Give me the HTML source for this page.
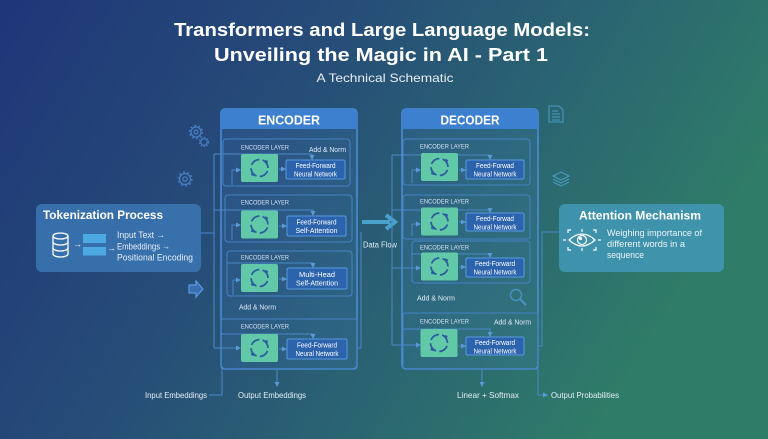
<!DOCTYPE html>
<html><head><meta charset="utf-8"><style>
html,body{margin:0;padding:0;background:#23447a;}
svg{display:block;}
text{font-family:"Liberation Sans",sans-serif;}
</style></head><body>
<svg width="768" height="439" viewBox="0 0 768 439" xmlns="http://www.w3.org/2000/svg">
<defs>
<linearGradient id="bg" x1="0" y1="0" x2="1" y2="0.35">
<stop offset="0" stop-color="#1f3679"/>
<stop offset="0.4" stop-color="#264c78"/>
<stop offset="0.7" stop-color="#2a6472"/>
<stop offset="1" stop-color="#2f7c68"/>
</linearGradient>
<marker id="ah" markerWidth="5" markerHeight="5" refX="4" refY="2.5" orient="auto" markerUnits="userSpaceOnUse">
<path d="M0,0 L5,2.5 L0,5 Z" fill="#5a9ad8"/>
</marker>
<marker id="ah2" markerWidth="6" markerHeight="6" refX="5" refY="3" orient="auto" markerUnits="userSpaceOnUse">
<path d="M0,0 L6,3 L0,6 Z" fill="#5aa0d0"/>
</marker>
<g id="cyc">
<rect x="-18.5" y="-14" width="37" height="28" rx="2" fill="#62c9a8"/>
<circle cx="0" cy="0" r="8.5" fill="none" stroke="#2b5d9c" stroke-width="1.8" stroke-dasharray="10 3.35" transform="rotate(20)"/>
<path d="M5.5,-8.2 l3.2,1.2 l-1.2,3.2z" fill="#2b5d9c"/>
<path d="M-5.5,8.2 l-3.2,-1.2 l1.2,-3.2z" fill="#2b5d9c"/>
</g>
</defs>
<rect width="768" height="439" fill="url(#bg)"/>

<!-- Title -->
<text x="382" y="36" fill="#fff" font-size="18.5" font-weight="bold" text-anchor="middle" textLength="416" lengthAdjust="spacingAndGlyphs">Transformers and Large Language Models:</text>
<text x="381" y="61" fill="#fff" font-size="18.5" font-weight="bold" text-anchor="middle" textLength="334" lengthAdjust="spacingAndGlyphs">Unveiling the Magic in AI - Part 1</text>
<text x="385" y="82" fill="#e8eef6" font-size="12" text-anchor="middle" textLength="137" lengthAdjust="spacingAndGlyphs">A Technical Schematic</text>

<!-- decorative icons -->
<g fill="none" stroke="#4a80c4" stroke-width="1.2">
<circle cx="196" cy="132" r="5"/><circle cx="196" cy="132" r="2"/>
<circle cx="196" cy="132" r="6.5" stroke-dasharray="2 2.1"/>
<circle cx="204" cy="142" r="3.2"/><circle cx="204" cy="142" r="4.5" stroke-dasharray="1.5 1.5"/>
<circle cx="185" cy="179" r="5.5"/><circle cx="185" cy="179" r="2.2"/>
<circle cx="185" cy="179" r="7" stroke-dasharray="2 2.4"/>
</g>
<g fill="none" stroke="#4a9ac0" stroke-width="1.1">
<path d="M549,106 H559 L563,110 V122 H549 Z"/>
<path d="M552,111 H558 M552,114 H560 M552,117 H560 M552,120 H560"/>
<path d="M553,176 L561,172 L569,176 L561,180 Z"/>
<path d="M553,179 L561,183 L569,179 M553,182 L561,186 L569,182"/>
</g>
<path d="M189,285 H196 V281 L203,289 L196,297 V293 H189 Z" fill="#3a6fb2" stroke="#5b9ae0" stroke-width="1.2"/>

<!-- Tokenization box -->
<rect x="36" y="204" width="165" height="68" rx="6" fill="#3b77b4" fill-opacity="0.85"/>
<text x="43" y="219" fill="#fff" font-size="12" font-weight="bold" textLength="120" lengthAdjust="spacingAndGlyphs">Tokenization Process</text>
<g fill="none" stroke="#fff" stroke-width="1.3">
<ellipse cx="60.5" cy="236" rx="7.5" ry="3"/>
<path d="M53,236 V254 M68,236 V254"/>
<path d="M53,242 A7.5,3 0 0 0 68,242 M53,248 A7.5,3 0 0 0 68,248 M53,254 A7.5,3 0 0 0 68,254"/>
</g>
<text x="73" y="247" fill="#e6eef8" font-size="9">→</text>
<rect x="83" y="234" width="23" height="9" fill="#4ca9e2"/>
<rect x="83" y="247" width="23" height="8.5" fill="#4ca9e2"/>
<text x="107" y="251" fill="#e6eef8" font-size="9">→</text>
<text x="117" y="238" fill="#e6eef8" font-size="9.5" textLength="48" lengthAdjust="spacingAndGlyphs">Input Text →</text>
<text x="117" y="249.5" fill="#e6eef8" font-size="9.5" textLength="53" lengthAdjust="spacingAndGlyphs">Embeddings →</text>
<text x="117" y="260.5" fill="#e6eef8" font-size="9.5" textLength="76" lengthAdjust="spacingAndGlyphs">Positional Encoding</text>

<!-- Attention box -->
<rect x="559" y="204" width="165" height="68" rx="6" fill="#4196b2" fill-opacity="0.9"/>
<text x="640" y="219.5" fill="#fff" font-size="12" font-weight="bold" text-anchor="middle" textLength="122" lengthAdjust="spacingAndGlyphs">Attention Mechanism</text>
<g fill="none" stroke="#fff" stroke-width="1.2">
<path d="M569,240 Q582,228 595,240 Q582,252 569,240 Z"/>
<circle cx="582" cy="240" r="4.5"/>
<path d="M563,240 H566 M598,240 H601 M582,229 V232 M582,248 V251"/>
<path d="M568,233 V230 H571 M596,233 V230 H593 M568,247 V250 H571 M596,247 V250 H593"/>
</g>
<circle cx="580.5" cy="238.5" r="1.6" fill="#fff"/>
<text x="607" y="236" fill="#eaf3f6" font-size="9.5" textLength="95" lengthAdjust="spacingAndGlyphs">Weighing importance of</text>
<text x="607" y="247" fill="#eaf3f6" font-size="9.5" textLength="78" lengthAdjust="spacingAndGlyphs">different words in a</text>
<text x="607" y="258" fill="#eaf3f6" font-size="9.5" textLength="37" lengthAdjust="spacingAndGlyphs">sequence</text>

<!-- ENCODER panel -->
<rect x="221" y="109" width="136" height="260" rx="4" fill="#4a8ee0" fill-opacity="0.13" stroke="#4c8fdc" stroke-width="1.5"/>
<path d="M221,129 V113 A4,4 0 0 1 225,109 H353 A4,4 0 0 1 357,113 V129 Z" fill="#3d80d0"/>
<text x="289" y="124.5" fill="#fff" font-size="12.5" font-weight="bold" text-anchor="middle" textLength="62" lengthAdjust="spacingAndGlyphs">ENCODER</text>

<g fill="none" stroke="#4682c4" stroke-width="1">
<rect x="223" y="139" width="127" height="47" rx="3"/>
<rect x="225" y="195" width="127" height="47" rx="3"/>
<rect x="227" y="251" width="125" height="45" rx="3"/>
<rect x="221" y="319" width="136" height="50" rx="2"/>
</g>

<!-- encoder connectors -->
<g fill="none" stroke="#4b88c8" stroke-width="1">
<path d="M201,233 H214"/>
<path d="M214,154 V348"/>
<path d="M214,154 H312 V159" marker-end="url(#ah)"/>
<path d="M232,185 V170 H240" marker-end="url(#ah)"/>
<path d="M279,169 H285" marker-end="url(#ah)"/>
<path d="M214,210 H313 V215" marker-end="url(#ah)"/>
<path d="M232,240 V225 H240" marker-end="url(#ah)"/>
<path d="M279,226 H286" marker-end="url(#ah)"/>
<path d="M227,263 H313 V267" marker-end="url(#ah)"/>
<path d="M233,295 V280 H240" marker-end="url(#ah)"/>
<path d="M279,279 H286" marker-end="url(#ah)"/>
<path d="M221,334 H313 V338" marker-end="url(#ah)"/>
<path d="M214,348 H240" marker-end="url(#ah)"/>
<path d="M279,349 H286" marker-end="url(#ah)"/>
<path d="M357,348 H361 V232"/>
<path d="M277,369 V386" marker-end="url(#ah)"/>
<path d="M209,395 H222 V369"/>
</g>

<use href="#cyc" x="259.5" y="168"/>
<use href="#cyc" x="259.5" y="224.5"/>
<use href="#cyc" x="259.5" y="278"/>
<use href="#cyc" x="259.5" y="348"/>

<g fill="#2b63ad" stroke="#5a9ae0" stroke-width="1">
<rect x="286" y="160" width="59" height="19" rx="1.5"/>
<rect x="287" y="216" width="59" height="20" rx="1.5"/>
<rect x="287" y="268" width="60" height="21" rx="1.5"/>
<rect x="287" y="339" width="60" height="20" rx="1.5"/>
</g>

<g fill="#d6e4f4" font-size="6.5">
<text x="241" y="149.5" textLength="48" lengthAdjust="spacingAndGlyphs">ENCODER LAYER</text>
<text x="241" y="204.5" textLength="48" lengthAdjust="spacingAndGlyphs">ENCODER LAYER</text>
<text x="241" y="259.5" textLength="48" lengthAdjust="spacingAndGlyphs">ENCODER LAYER</text>
<text x="241" y="328.5" textLength="48" lengthAdjust="spacingAndGlyphs">ENCODER LAYER</text>
</g>
<g fill="#e2ecf8" font-size="7.5">
<text x="309" y="152" textLength="37" lengthAdjust="spacingAndGlyphs">Add &amp; Norm</text>
<text x="239" y="309.5" textLength="37" lengthAdjust="spacingAndGlyphs">Add &amp; Norm</text>
</g>
<g fill="#fff" font-size="7" text-anchor="middle">
<text x="315.5" y="168" textLength="40" lengthAdjust="spacingAndGlyphs">Feed-Forward</text>
<text x="315.5" y="176.5" textLength="43" lengthAdjust="spacingAndGlyphs">Neural Network</text>
<text x="316.5" y="224.5" textLength="40" lengthAdjust="spacingAndGlyphs">Feed-Forward</text>
<text x="316.5" y="233" textLength="42" lengthAdjust="spacingAndGlyphs">Self-Attention</text>
<text x="317" y="277" textLength="36" lengthAdjust="spacingAndGlyphs">Multi-Head</text>
<text x="317" y="285.5" textLength="42" lengthAdjust="spacingAndGlyphs">Self-Attention</text>
<text x="317" y="347.5" textLength="40" lengthAdjust="spacingAndGlyphs">Feed-Forward</text>
<text x="317" y="356" textLength="43" lengthAdjust="spacingAndGlyphs">Neural Network</text>
</g>

<!-- Data flow -->
<path d="M362,222 H390" stroke="#4aa2cc" stroke-width="4" fill="none"/>
<path d="M386,215 L395,222 L386,229" stroke="#4aa2cc" stroke-width="4" fill="none" stroke-linejoin="miter"/>
<text x="363" y="247.5" fill="#e6eef6" font-size="8" textLength="34" lengthAdjust="spacingAndGlyphs">Data Flow</text>

<!-- DECODER panel -->
<rect x="402" y="109" width="136" height="260" rx="4" fill="#4a8ee0" fill-opacity="0.13" stroke="#4c8fdc" stroke-width="1.5"/>
<path d="M402,129 V113 A4,4 0 0 1 406,109 H534 A4,4 0 0 1 538,113 V129 Z" fill="#3d80d0"/>
<text x="470" y="124.5" fill="#fff" font-size="12.5" font-weight="bold" text-anchor="middle" textLength="59" lengthAdjust="spacingAndGlyphs">DECODER</text>

<g fill="none" stroke="#4682c4" stroke-width="1">
<rect x="403" y="139" width="127" height="46" rx="3"/>
<rect x="403" y="195" width="127" height="44" rx="3"/>
<rect x="412" y="241" width="118" height="42" rx="3"/>
<rect x="403" y="313" width="135" height="56" rx="2"/>
</g>

<g fill="none" stroke="#4b88c8" stroke-width="1">
<path d="M392,155 V345"/>
<path d="M392,155 H490 V159" marker-end="url(#ah)"/>
<path d="M412,183 V170 H420" marker-end="url(#ah)"/>
<path d="M459,170 H465" marker-end="url(#ah)"/>
<path d="M392,210 H490 V212" marker-end="url(#ah)"/>
<path d="M412,236 V224 H420" marker-end="url(#ah)"/>
<path d="M459,222 H465" marker-end="url(#ah)"/>
<path d="M412,254 H490 V257" marker-end="url(#ah)"/>
<path d="M392,268 H420" marker-end="url(#ah)"/>
<path d="M459,267 H465" marker-end="url(#ah)"/>
<path d="M403,329 H490 V336" marker-end="url(#ah)"/>
<path d="M392,345 H420" marker-end="url(#ah)"/>
<path d="M458,346 H465" marker-end="url(#ah)"/>
<path d="M538,346 H542 V232 H559"/>
<path d="M482,369 V386" marker-end="url(#ah)"/>
<path d="M538,369 V395 H547" marker-end="url(#ah)"/>
</g>

<use href="#cyc" x="439.5" y="167"/>
<use href="#cyc" x="439.5" y="221.5"/>
<use href="#cyc" x="439.5" y="266.5"/>
<use href="#cyc" x="439" y="343"/>

<g fill="#2b63ad" stroke="#5a9ae0" stroke-width="1">
<rect x="466" y="160" width="58" height="19" rx="1.5"/>
<rect x="466" y="213" width="58" height="18" rx="1.5"/>
<rect x="466" y="258" width="58" height="19" rx="1.5"/>
<rect x="466" y="337" width="58" height="18" rx="1.5"/>
</g>

<g fill="#d6e4f4" font-size="6.5">
<text x="420" y="148.5" textLength="49" lengthAdjust="spacingAndGlyphs">ENCODER LAYER</text>
<text x="420" y="203.5" textLength="49" lengthAdjust="spacingAndGlyphs">ENCODER LAYER</text>
<text x="420" y="249.5" textLength="49" lengthAdjust="spacingAndGlyphs">ENCODER LAYER</text>
<text x="420" y="323.5" textLength="49" lengthAdjust="spacingAndGlyphs">ENCODER LAYER</text>
</g>
<g fill="#e2ecf8" font-size="7.5">
<text x="417" y="300.5" textLength="38" lengthAdjust="spacingAndGlyphs">Add &amp; Norm</text>
<text x="494" y="324.5" textLength="37" lengthAdjust="spacingAndGlyphs">Add &amp; Norm</text>
</g>
<g fill="none" stroke="#4a90c0" stroke-width="1.5">
<circle cx="516" cy="295" r="5.5"/>
<path d="M520,299 L526,305" stroke-width="2.2"/>
</g>
<g fill="#fff" font-size="7" text-anchor="middle">
<text x="495" y="168" textLength="38" lengthAdjust="spacingAndGlyphs">Feed-Forwad</text>
<text x="495" y="176.5" textLength="43" lengthAdjust="spacingAndGlyphs">Neural Network</text>
<text x="495" y="221" textLength="38" lengthAdjust="spacingAndGlyphs">Feed-Forwad</text>
<text x="495" y="229.5" textLength="43" lengthAdjust="spacingAndGlyphs">Neural Network</text>
<text x="495" y="266" textLength="40" lengthAdjust="spacingAndGlyphs">Feed-Forward</text>
<text x="495" y="274.5" textLength="43" lengthAdjust="spacingAndGlyphs">Neural Network</text>
<text x="495" y="345" textLength="40" lengthAdjust="spacingAndGlyphs">Feed-Forward</text>
<text x="495" y="353.5" textLength="43" lengthAdjust="spacingAndGlyphs">Neural Network</text>
</g>

<!-- bottom labels -->
<g fill="#e6eef6" font-size="8.5">
<text x="145" y="398" textLength="62" lengthAdjust="spacingAndGlyphs">Input Embeddings</text>
<text x="238" y="398" textLength="68" lengthAdjust="spacingAndGlyphs">Output Embeddings</text>
<text x="457" y="398" textLength="62" lengthAdjust="spacingAndGlyphs">Linear + Softmax</text>
<text x="551" y="398" textLength="68" lengthAdjust="spacingAndGlyphs">Output Probabilities</text>
</g>
</svg>
</body></html>
